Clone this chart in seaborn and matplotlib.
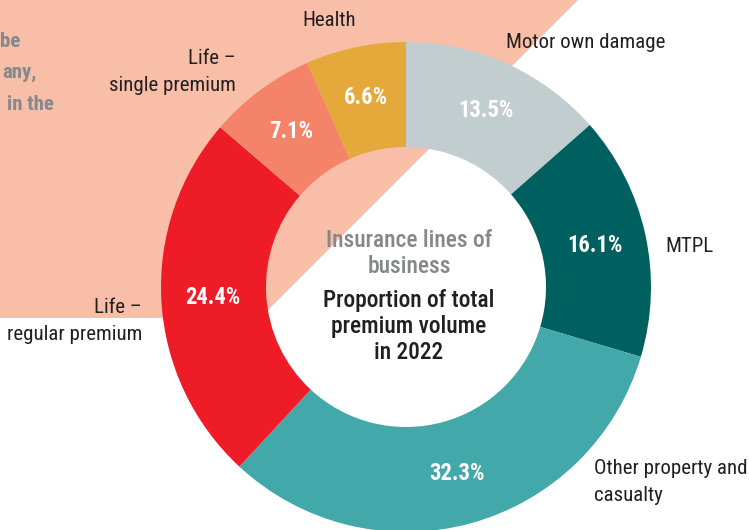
import matplotlib
matplotlib.use("Agg")
import matplotlib.pyplot as plt
import seaborn as sns

# data (clockwise from 12 o'clock)
lines = ["Motor own damage", "MTPL", "Other property and\ncasualty",
         "Life \u2013\nregular premium", "Life \u2013\nsingle premium", "Health"]
shares = [13.5, 16.1, 32.3, 24.4, 7.1, 6.6]
colors = ["#C1CDCF", "#00605F", "#42A8A9", "#ED1C26", "#F4836A", "#E5A93B"]

# label placement: x and first-line baseline (pixels from top-left)
label_pos = [(506, 48), (665, 252), (594, 474), (142, 313), (236, 64), (329, 26)]
label_ha = ["left", "left", "left", "right", "right", "center"]

sns.set_style("white")
plt.rcParams['font.family'] = ['Roboto Condensed', 'Liberation Sans Narrow',
                               'Roboto', 'DejaVu Sans']

W, H = 749, 530
def Y(y):
    return H - y

fig = plt.figure(figsize=(W / 100, H / 100), dpi=100)
ax = fig.add_axes([0, 0, 1, 1])

# salmon background band
ax.fill([0, 578, 260, 0], [Y(0), Y(0), Y(318), Y(318)], color="#F9BEA8", lw=0, zorder=0)

# cut-off paragraph text in the top-left corner
for txt, x, y in [("be", 20, 47), ("any,", 37, 78), ("in the", 54, 110)]:
    ax.text(x, Y(y), txt, ha="right", va="baseline", fontsize=15,
            fontweight="bold", color="#86898C", zorder=1)

wedges, texts, autotexts = ax.pie(
    shares, colors=colors, startangle=90, counterclock=False,
    center=(406, Y(287)), radius=245, frame=True,
    wedgeprops=dict(width=105, linewidth=0),
    autopct=lambda p: f"{p:.1f}%", pctdistance=0.79,
    textprops=dict(color="white", fontsize=16.3, fontweight="bold"))
for w in wedges:
    w.set_zorder(2)
for t in autotexts:
    t.set_zorder(3)

for name, (x, y), ha in zip(lines, label_pos, label_ha):
    for i, part in enumerate(name.split("\n")):
        ax.text(x, Y(y + 27 * i), part, ha=ha, va="baseline", fontsize=15,
                color="#231F20", zorder=3)

# centre text
for i, part in enumerate(["Insurance lines of", "business"]):
    ax.text(409, Y(247 + 26 * i), part, ha="center", va="baseline",
            fontsize=16.8, fontweight="medium", color="#858789", zorder=3)
for i, part in enumerate(["Proportion of total", "premium volume", "in 2022"]):
    ax.text(409, Y(307 + 26 * i), part, ha="center", va="baseline",
            fontsize=16.8, fontweight="medium", color="#231F20", zorder=3)

ax.set_xlim(0, W)
ax.set_ylim(0, H)
ax.set_aspect("auto")
ax.axis("off")

fig.savefig("out.png", dpi=100)
